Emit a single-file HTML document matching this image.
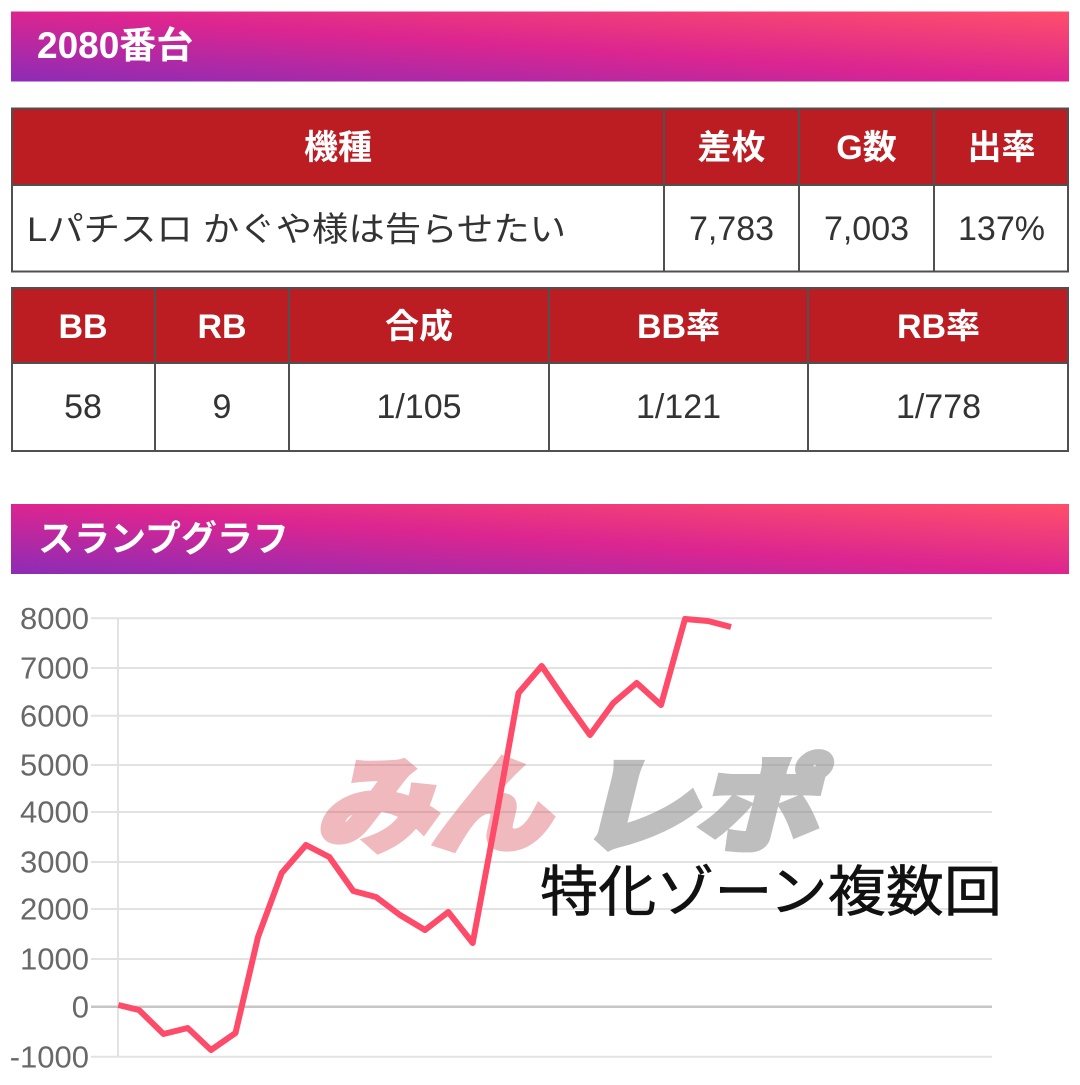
<!DOCTYPE html>
<html><head><meta charset="utf-8"><style>
html,body{margin:0;padding:0;background:#fff;}
svg{display:block;}
text{font-family:"Liberation Sans","Noto Sans CJK JP",sans-serif;}
</style></head><body>
<svg width="1080" height="1085" viewBox="0 0 1080 1085" xmlns="http://www.w3.org/2000/svg">
<defs>
<linearGradient id="g" x1="0" y1="1" x2="1" y2="0">
<stop offset="0" stop-color="#8c2cb6"/>
<stop offset="0.5" stop-color="#dc2590"/>
<stop offset="1" stop-color="#ff4f6a"/>
</linearGradient>
</defs>
<rect x="0" y="0" width="1080" height="1085" fill="#fff"/>
<!-- header 1 -->
<rect x="11" y="11.5" width="1058" height="70" fill="url(#g)"/>
<text x="37" y="58" font-size="37" font-weight="bold" fill="#fff">2080番台</text>

<!-- table 1 -->
<rect x="11" y="108" width="1058" height="77" fill="#bc1d22"/>
<rect x="11" y="185" width="1058" height="87" fill="#fff"/>
<g stroke="#505050" stroke-width="2" fill="none">
<rect x="12" y="108.5" width="1056" height="163"/>
<line x1="12" y1="185" x2="1068" y2="185"/>
<line x1="664" y1="108" x2="664" y2="272"/>
<line x1="799" y1="108" x2="799" y2="272"/>
<line x1="934" y1="108" x2="934" y2="272"/>
</g>
<g font-size="34" font-weight="bold" fill="#fff" text-anchor="middle">
<text x="338" y="159">機種</text>
<text x="731.5" y="159">差枚</text>
<text x="866.5" y="159">G数</text>
<text x="1001.5" y="159">出率</text>
</g>
<g font-size="34" fill="#333">
<text x="27" y="241" textLength="539" lengthAdjust="spacingAndGlyphs">Lパチスロ かぐや様は告らせたい</text>
</g>
<g font-size="34" fill="#333" text-anchor="middle">
<text x="731.5" y="240">7,783</text>
<text x="866.5" y="240">7,003</text>
<text x="1001.5" y="240">137%</text>
</g>

<!-- table 2 -->
<rect x="11" y="288" width="1058" height="75" fill="#bc1d22"/>
<rect x="11" y="363" width="1058" height="88" fill="#fff"/>
<g stroke="#505050" stroke-width="2" fill="none">
<rect x="12" y="288" width="1056" height="163"/>
<line x1="12" y1="363" x2="1068" y2="363"/>
<line x1="155" y1="288" x2="155" y2="451"/>
<line x1="289" y1="288" x2="289" y2="451"/>
<line x1="549" y1="288" x2="549" y2="451"/>
<line x1="808" y1="288" x2="808" y2="451"/>
</g>
<g font-size="34" font-weight="bold" fill="#fff" text-anchor="middle">
<text x="83" y="338">BB</text>
<text x="222" y="338">RB</text>
<text x="419" y="338">合成</text>
<text x="678.5" y="338">BB率</text>
<text x="938.5" y="338">RB率</text>
</g>
<g font-size="34" fill="#333" text-anchor="middle">
<text x="83" y="418">58</text>
<text x="222" y="418">9</text>
<text x="419" y="418">1/105</text>
<text x="678.5" y="418">1/121</text>
<text x="938.5" y="418">1/778</text>
</g>

<!-- header 2 -->
<rect x="11" y="504" width="1058" height="70" fill="url(#g)"/>
<text x="38" y="551" font-size="36" font-weight="bold" fill="#fff">スランプグラフ</text>

<!-- chart grid -->
<g stroke="#e2e2e2" stroke-width="2">
<line x1="91" y1="618.3" x2="992" y2="618.3"/>
<line x1="91" y1="668" x2="992" y2="668"/>
<line x1="91" y1="715.7" x2="992" y2="715.7"/>
<line x1="91" y1="765" x2="992" y2="765"/>
<line x1="91" y1="812" x2="992" y2="812"/>
<line x1="91" y1="862" x2="992" y2="862"/>
<line x1="91" y1="909" x2="992" y2="909"/>
<line x1="91" y1="959" x2="992" y2="959"/>
<line x1="91" y1="1056.7" x2="992" y2="1056.7"/>
<line x1="118" y1="618" x2="118" y2="1057"/>
</g>
<line x1="91" y1="1006.7" x2="992" y2="1006.7" stroke="#c6c6c6" stroke-width="2.5"/>
<g font-size="31" fill="#686868" text-anchor="end">
<text x="89" y="629">8000</text>
<text x="89" y="678.7">7000</text>
<text x="89" y="726.4">6000</text>
<text x="89" y="775.7">5000</text>
<text x="89" y="822.7">4000</text>
<text x="89" y="872.7">3000</text>
<text x="89" y="919.7">2000</text>
<text x="89" y="969.7">1000</text>
<text x="89" y="1017.4">0</text>
<text x="89" y="1067.4">-1000</text>
</g>

<!-- watermark -->
<g opacity="0.36">
<text x="0" y="0" transform="translate(316,842) skewX(-14)" fill="#d8404c" stroke="#d8404c" stroke-width="9" stroke-linejoin="miter" font-size="102" font-weight="bold" textLength="232" lengthAdjust="spacingAndGlyphs" font-family="'Noto Sans CJK JP',sans-serif">みん</text>
</g>
<g opacity="0.55">
<text x="0" y="0" transform="translate(576,842) skewX(-14)" fill="#8a8a8a" stroke="#8a8a8a" stroke-width="9" stroke-linejoin="miter" font-size="102" font-weight="bold" textLength="240" lengthAdjust="spacingAndGlyphs" font-family="'Noto Sans CJK JP',sans-serif">レポ</text>
</g>

<!-- handwriting -->
<text x="540" y="911" font-size="55" fill="#111" stroke="#111" stroke-width="0.6" textLength="462" lengthAdjust="spacingAndGlyphs" font-family="'Noto Sans CJK JP',sans-serif">特化ゾーン複数回</text>

<!-- series -->
<polyline fill="none" stroke="#fd4b69" stroke-width="6" stroke-linejoin="round" stroke-linecap="butt"
points="118.3,1005 139,1010 163.5,1034 187.7,1028 211,1050 235.5,1033 258,937 281.7,873 306,845 329.3,857 353.3,891 376,897 400,915 425,930 448.3,912 472.7,943 496,818 518.5,693 541.7,666 565,700 590,735 613.3,703 636.7,683 661,705 685,619 708,621 731,627"/>
</svg>
</body></html>
